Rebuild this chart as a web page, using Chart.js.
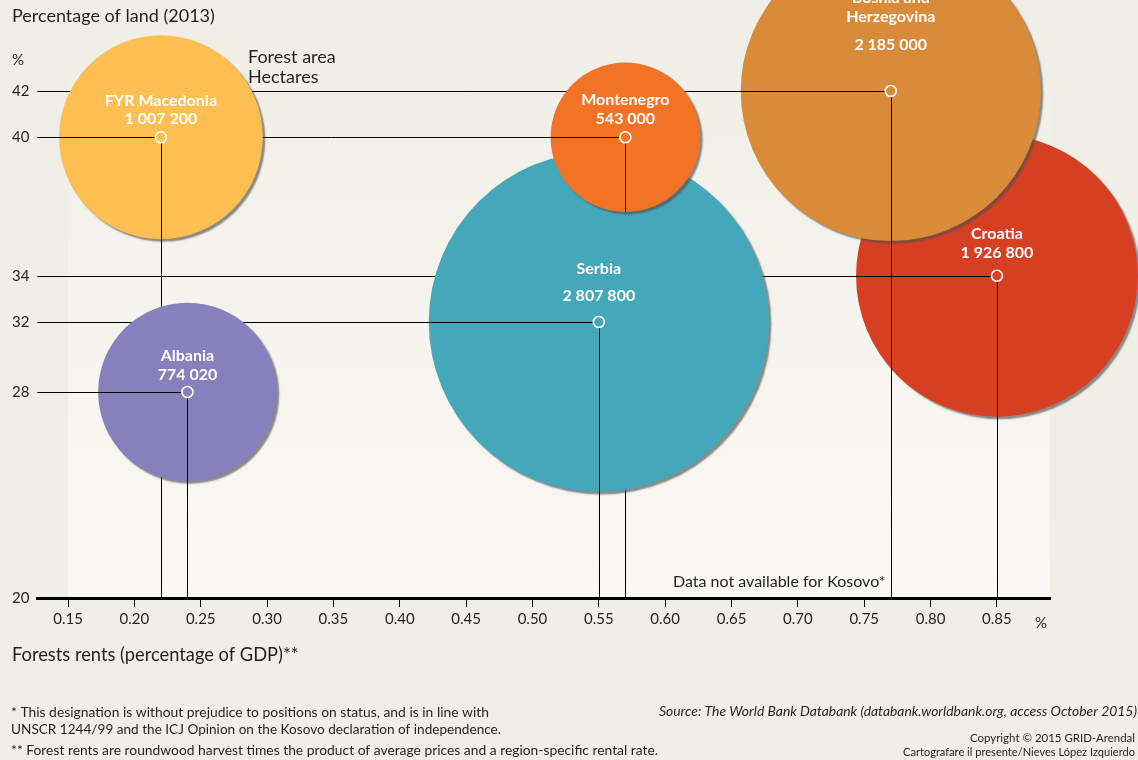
<!DOCTYPE html>
<html>
<head>
<meta charset="utf-8">
<script src="https://cdn.jsdelivr.net/npm/chart.js@4.4.1/dist/chart.umd.min.js"></script>
<style>
  html, body { margin: 0; padding: 0; background: #f0efe7; }
  #wrap { width: 1138px; height: 760px; position: relative; }
</style>
</head>
<body>
<div id="wrap"><canvas id="forest-chart" width="1138" height="760"></canvas></div>
<script>
// --- Data (listed front to back) ---
var countries   = ['Albania', 'FYR Macedonia', 'Montenegro', 'Serbia', 'Bosnia and Herzegovina', 'Croatia'];
var forestRents = [0.24, 0.22, 0.57, 0.55, 0.77, 0.85];                 // % of GDP
var landShare   = [28, 40, 40, 32, 42, 34];                             // % of land
var forestArea  = [774020, 1007200, 543000, 2807800, 2185000, 1926800]; // hectares
var xTicks = [0.15, 0.20, 0.25, 0.30, 0.35, 0.40, 0.45, 0.50, 0.55, 0.60, 0.65, 0.70, 0.75, 0.80, 0.85];
var yTicks = [20, 28, 32, 34, 40, 42];

// --- Styling ---
var bubbleColors = ['#8780bd', '#fdbf52', '#f27325', '#45a8ba', '#d98b3a', '#d73f22'];
var nameLines = [['Albania'], ['FYR Macedonia'], ['Montenegro'], ['Serbia'], ['Bosnia and', 'Herzegovina'], ['Croatia']];
var labelOffsets = [[-36, -17], [-36, -18], [-37, -18], [-53, -26], [-93, -74, -46], [-42, -23]];
var clipOwnLines = ['Montenegro'];   // leader lines kept inside their own bubble
var textColor = '#231f20';
var AREA_SCALE = 0.1015;             // px of radius per sqrt(hectare)
// the printed y axis is stretched below 32: [value, fraction of axis height]
var yScaleKnots = [[20, 0], [28, 0.3633], [32, 0.4868], [44.6, 1]];

// Piecewise linear axis so the ticks sit where the print has them
class PiecewiseScale extends Chart.LinearScale {
  getPixelForValue(value) {
    var k = yScaleKnots;
    var f = 0;
    for (var i = 1; i < k.length; i++) {
      if (value <= k[i][0] || i === k.length - 1) {
        f = k[i - 1][1] + (value - k[i - 1][0]) / (k[i][0] - k[i - 1][0]) * (k[i][1] - k[i - 1][1]);
        break;
      }
    }
    return this.getPixelForDecimal(f);
  }
  getValueForPixel(pixel) {
    var f = this.getDecimalForPixel(pixel);
    var k = yScaleKnots;
    for (var i = 1; i < k.length; i++) {
      if (f <= k[i][1] || i === k.length - 1) {
        return k[i - 1][0] + (f - k[i - 1][1]) / (k[i][1] - k[i - 1][1]) * (k[i][0] - k[i - 1][0]);
      }
    }
  }
}
PiecewiseScale.id = 'piecewise';
PiecewiseScale.defaults = Chart.LinearScale.defaults;
Chart.register(PiecewiseScale);

function radiusFor(ha) {
  return Math.sqrt(ha) * AREA_SCALE;
}

function formatHa(n) {
  return n.toString().replace(/\B(?=(\d{3})+(?!\d))/g, ' ');
}

function drawLeader(ctx, chart, px, py) {
  var area = chart.chartArea;
  var yy = Math.round(py) + 0.5;
  var xx = Math.round(px) + 0.5;
  ctx.save();
  ctx.strokeStyle = '#000';
  ctx.lineWidth = 1;
  ctx.beginPath();
  ctx.moveTo(area.left, yy);
  ctx.lineTo(xx, yy);
  ctx.moveTo(xx, yy);
  ctx.lineTo(xx, area.bottom);
  ctx.stroke();
  ctx.restore();
}

var forestPlugin = {
  id: 'forestPlugin',
  beforeDraw: function(chart) {
    var ctx = chart.ctx;
    var area = chart.chartArea;
    var left = chart.scales.x.getPixelForValue(0.15);
    var grad = ctx.createLinearGradient(0, 40, 0, area.bottom);
    grad.addColorStop(0, '#f0efe7');
    grad.addColorStop(1, '#f9f8f4');
    ctx.save();
    ctx.fillStyle = grad;
    ctx.fillRect(left, 0, area.right - left, area.bottom);
    ctx.restore();
  },
  beforeDatasetsDraw: function(chart) {
    // base layer: every leader line, later covered by bubbles
    var ctx = chart.ctx;
    chart.data.datasets.forEach(function(ds, i) {
      var el = chart.getDatasetMeta(i).data[0];
      drawLeader(ctx, chart, el.x, el.y);
    });
  },
  beforeDatasetDraw: function(chart, args) {
    var ctx = chart.ctx;
    ctx.save();
    ctx.shadowColor = 'rgba(80,80,80,0.65)';
    ctx.shadowBlur = 1.5;
    ctx.shadowOffsetX = 2.5;
    ctx.shadowOffsetY = 2.5;
  },
  afterDatasetDraw: function(chart, args) {
    var ctx = chart.ctx;
    ctx.restore();
    var i = args.index;
    var el = args.meta.data[0];
    var px = el.x, py = el.y;
    var r = radiusFor(forestArea[i]);

    // own leader lines on top of own bubble
    ctx.save();
    if (clipOwnLines.indexOf(countries[i]) >= 0) {
      ctx.beginPath();
      ctx.arc(px, py, r, 0, Math.PI * 2);
      ctx.clip();
    }
    drawLeader(ctx, chart, px, py);
    ctx.restore();

    // point marker
    ctx.save();
    ctx.beginPath();
    ctx.arc(px, py, 5.5, 0, Math.PI * 2);
    ctx.fillStyle = bubbleColors[i];
    ctx.fill();
    ctx.lineWidth = 1.6;
    ctx.strokeStyle = '#fff';
    ctx.stroke();

    // labels
    ctx.fillStyle = '#fff';
    ctx.font = 'bold 16px Lato';
    ctx.textAlign = 'center';
    ctx.textBaseline = 'middle';
    var lines = nameLines[i].concat([formatHa(forestArea[i])]);
    lines.forEach(function(t, k) {
      ctx.fillText(t, px, py + labelOffsets[i][k]);
    });
    ctx.restore();
  },
  afterDraw: function(chart) {
    var ctx = chart.ctx;
    ctx.save();
    ctx.fillStyle = textColor;
    ctx.textBaseline = 'alphabetic';
    ctx.textAlign = 'left';

    ctx.font = '18px Lato';
    ctx.fillText('Percentage of land (2013)', 12, 22, 207);
    ctx.fillText('Forest area', 248, 63);
    ctx.fillText('Hectares', 248, 83);
    ctx.font = '18.3px Lato';
    ctx.fillText('Forests rents (percentage of GDP)**', 12, 661, 287);

    ctx.font = '15px Lato';
    ctx.fillText('%', 12, 65);
    ctx.fillText('%', 1035, 628);
    ctx.font = '16px Lato';
    ctx.fillText('Data not available for Kosovo*', 673, 587, 215);

    ctx.font = '14px Lato';
    ctx.fillText('* This designation is without prejudice to positions on status, and is in line with', 11, 717, 478);
    ctx.fillText('UNSCR 1244/99 and the ICJ Opinion on the Kosovo declaration of independence.', 11, 734, 490);
    ctx.fillText('** Forest rents are roundwood harvest times the product of average prices and a region-specific rental rate.', 11, 755, 647);

    ctx.textAlign = 'right';
    ctx.font = 'italic 14px Lato';
    ctx.fillText('Source: The World Bank Databank (databank.worldbank.org, access October 2015)', 1137, 716, 478);
    ctx.font = '11.5px Lato';
    ctx.fillText('Copyright \u00a9 2015 GRID-Arendal', 1135, 742, 165);
    ctx.fillText('Cartografare il presente/Nieves L\u00f3pez Izquierdo', 1135, 756, 232);
    ctx.restore();
  }
};

var datasets = countries.map(function(name, i) {
  return {
    label: name,
    data: [{ x: forestRents[i], y: landShare[i], r: radiusFor(forestArea[i]) }],
    backgroundColor: bubbleColors[i],
    borderWidth: 0,
    hoverRadius: 0,
    clip: false,
    order: i
  };
});

var forestChart = new Chart(document.getElementById('forest-chart'), {
  type: 'bubble',
  data: { datasets: datasets },
  options: {
    responsive: false,
    animation: false,
    events: [],
    layout: { autoPadding: false, padding: { top: 31, right: 88, left: 0, bottom: 0 } },
    plugins: {
      legend: { display: false },
      tooltip: { enabled: false }
    },
    scales: {
      x: {
        type: 'linear',
        min: 0.127,
        max: 0.89,
        afterBuildTicks: function(scale) {
          scale.ticks = xTicks.map(function(v) { return { value: v }; });
        },
        afterFit: function(scale) { scale.height = 162; },
        grid: { display: true, drawOnChartArea: false, drawTicks: true, tickLength: 9, color: '#000', lineWidth: 1 },
        border: { display: true, color: '#000', width: 3 },
        ticks: {
          font: { family: 'Lato', size: 15 },
          color: textColor,
          padding: 3,
          maxRotation: 0,
          autoSkip: false,
          callback: function(v) { return v.toFixed(2); }
        }
      },
      y: {
        type: 'piecewise',
        min: 20,
        max: 44.6,
        afterBuildTicks: function(scale) {
          scale.ticks = yTicks.map(function(v) { return { value: v }; });
        },
        afterFit: function(scale) { scale.width = 37.5; },
        grid: { display: false, drawTicks: false },
        border: { display: false },
        ticks: {
          font: { family: 'Lato', size: 15 },
          color: textColor,
          padding: 8,
          autoSkip: false
        }
      }
    }
  },
  plugins: [forestPlugin]
});
</script>
</body>
</html>
